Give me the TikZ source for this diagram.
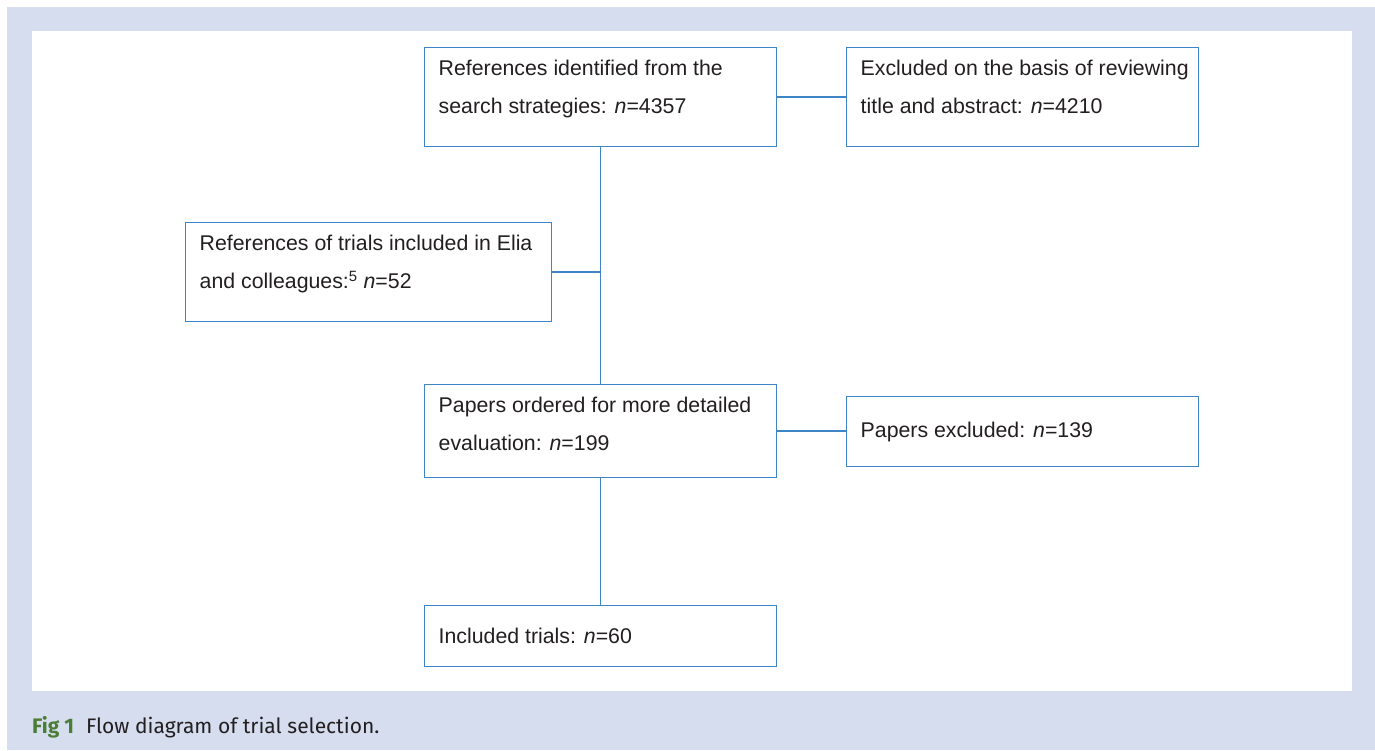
\documentclass[tikz,border=0pt]{standalone}
\usepackage{fontspec}
\setmainfont{Liberation Sans}
\newfontfamily\capfont{Fira Sans}
\definecolor{lineblue}{HTML}{3D85C6}
\definecolor{panelblue}{HTML}{D5DDEF}
\definecolor{figgreen}{HTML}{4A7D35}
\definecolor{txt}{HTML}{231F20}
\newcommand\boxtwo[3]{\parbox[c][#2pt][t]{#1pt}{\raggedright\leftskip=14pt\fontsize{21.3pt}{38.5pt}\selectfont\rule{0pt}{27.5pt}#3}}
\newcommand\boxone[3]{\parbox[c][#2pt][c]{#1pt}{\raggedright\leftskip=14pt\fontsize{21.3pt}{38.5pt}\selectfont #3}}
\tikzset{
  box/.style={draw=lineblue, line width=1.4pt, fill=white, inner sep=0pt, anchor=north west, text=txt},
  conn/.style={draw=lineblue, line width=1.5pt}
}
\begin{document}
\begin{tikzpicture}[x=1pt,y=-1pt]
\useasboundingbox (0,0) rectangle (1375,750);
\fill[white] (0,0) rectangle (1375,750);
\fill[panelblue] (7,7) rectangle (1375,750);
\fill[white] (32,31) rectangle (1352,691);

\node[box] (b1) at (424,47) {\boxtwo{352}{99}{References identified from the\\search strategies: \textit{n}=4357}};
\node[box] (b2) at (846,47) {\boxtwo{352}{99}{Excluded on the basis of reviewing\\title and abstract: \textit{n}=4210}};
\node[box] (b3) at (185,222) {\boxtwo{366}{99}{References of trials included in Elia\\and colleagues:\textsuperscript{5} \textit{n}=52}};
\node[box] (b4) at (424,384) {\boxtwo{352}{93}{Papers ordered for more detailed\\evaluation: \textit{n}=199}};
\node[box] (b5) at (846,396) {\boxone{352}{70}{Papers excluded: \textit{n}=139}};
\node[box] (b6) at (424,605) {\boxone{352}{61}{Included trials: \textit{n}=60}};

\draw[conn] (b1.east) -- (b2.west);
\draw[conn] (b1.south) -- (b4.north);
\draw[conn] (b3.east) -- (b3.east -| b1.south);
\draw[conn] (b4.east) -- (b4.east -| b5.west);
\draw[conn] (b4.south) -- (b6.north);

\node[anchor=base west, inner sep=0pt, text=txt] (cap) at (32,733)
  {\capfont\fontsize{21pt}{21pt}\selectfont\textcolor{figgreen}{\bfseries Fig 1}\hspace{12pt}Flow diagram of trial selection.};
\end{tikzpicture}
\end{document}
